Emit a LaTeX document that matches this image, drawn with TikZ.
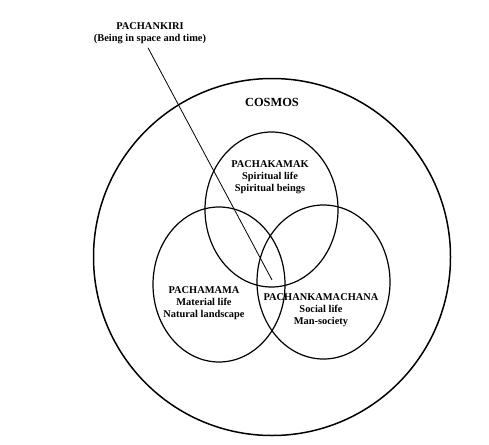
\documentclass[tikz,border=0pt]{standalone}
\usepackage{fontspec}
\setmainfont{Liberation Serif}
\usepackage{tikz}
\newcommand{\FL}{\fontsize{10.4}{12}\selectfont\bfseries}
\newcommand{\FT}{\fontsize{12.4}{14}\selectfont\bfseries}

\begin{document}
\begin{tikzpicture}[x=1pt,y=-1pt]
\tikzstyle{texto}=[draw=none,fill=none,black,font=\FL,align=center,inner sep=0pt]
\tikzstyle{ring}=[black,line width=1.5pt]
\tikzstyle{orb}=[black,line width=1.2pt]
\tikzstyle{pointer}=[black,line width=0.8pt]

\useasboundingbox (0,0) rectangle (489,444);

\draw[ring] (272,257) circle (178.5);
\draw[orb] (271.5,209.5) ellipse (66.5 and 77.5);
\draw[orb] (219,284.5) ellipse (66 and 77.5);
\draw[orb] (323.5,282) ellipse (66.5 and 77);

\node[texto] (kiri) at (150,33) {PACHANKIRI\\(Being in space and time)};
\coordinate (tip) at (272,280);
\draw[pointer] ([xshift=-2pt,yshift=-4pt]kiri.south) -- (tip);

\node[texto,font=\FT] (cosmos) at (272,102) {COSMOS};
\node[texto] (kamak) at (270,177) {PACHAKAMAK\\Spiritual life\\Spiritual beings};
\node[texto] (mama) at (204,303) {PACHAMAMA\\Material life\\Natural landscape};
\node[texto] (machana) at (321,310) {PACHANKAMACHANA\\Social life\\Man-society};
\end{tikzpicture}
\end{document}
